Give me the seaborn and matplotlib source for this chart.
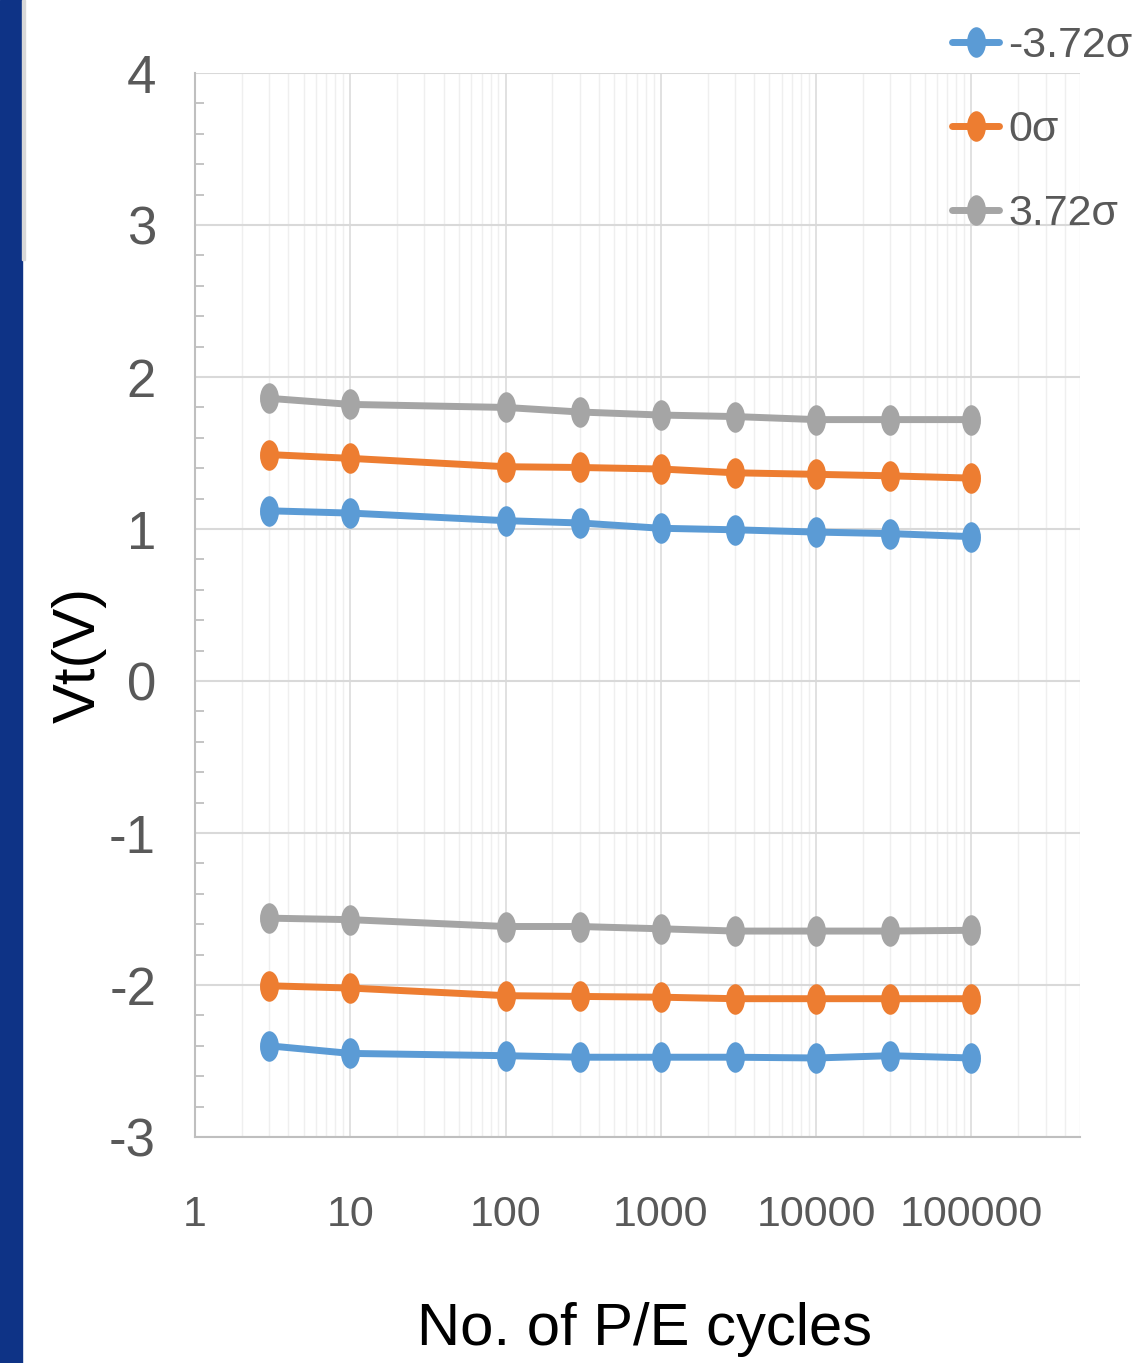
import numpy as np
import pandas as pd
import matplotlib
matplotlib.use("Agg")
import matplotlib.pyplot as plt
from matplotlib.path import Path
from matplotlib.transforms import Affine2D
from matplotlib.patches import Rectangle
from matplotlib.ticker import LogLocator, MultipleLocator, FixedLocator
import seaborn as sns

cycles = [3, 10, 100, 300, 1000, 3000, 10000, 30000, 100000]
sigmas = ["-3.72σ", "0σ", "3.72σ"]

# upper (programmed) state
prog_neg = [1.12, 1.105, 1.055, 1.04, 1.005, 0.995, 0.98, 0.97, 0.95]
prog_mid = [1.49, 1.465, 1.41, 1.405, 1.395, 1.37, 1.36, 1.35, 1.335]
prog_pos = [1.86, 1.82, 1.80, 1.77, 1.75, 1.74, 1.72, 1.72, 1.72]

# lower (erased) state
erase_neg = [-2.40, -2.45, -2.465, -2.475, -2.475, -2.475, -2.48, -2.465, -2.48]
erase_mid = [-2.005, -2.02, -2.07, -2.075, -2.08, -2.09, -2.09, -2.09, -2.09]
erase_pos = [-1.56, -1.57, -1.615, -1.615, -1.63, -1.645, -1.645, -1.645, -1.64]

colors = ["#5b9bd5", "#ed7d31", "#a5a5a5"]

rows = []
for state, series in [("prog", [prog_neg, prog_mid, prog_pos]),
                      ("erase", [erase_neg, erase_mid, erase_pos])]:
    for sig, vals in zip(sigmas, series):
        for c, v in zip(cycles, vals):
            rows.append({"cycles": c, "vt": v, "sigma": sig, "state": state})
df = pd.DataFrame(rows)

sns.set_style("white")
plt.rcParams["font.family"] = ["Liberation Sans", "DejaVu Sans"]
plt.rcParams["axes.unicode_minus"] = False

fig = plt.figure(figsize=(11.43, 13.63), dpi=100)
ax = fig.add_axes([0.1706, 0.1658, 0.9449 - 0.1706, 0.9464 - 0.1658])

# left blue strip
fig.patches.append(Rectangle((0, 0), 22 / 1143, 1, transform=fig.transFigure,
                             color="#0e3386", zorder=0))
fig.patches.append(Rectangle((22 / 1143, 1 - 260 / 1363), 3 / 1143, 260 / 1363,
                             transform=fig.transFigure, color="#d8d8d8", zorder=0))

# tall ellipse marker
ellipse = Path.unit_circle().transformed(Affine2D().scale(0.62, 1.0))

sns.lineplot(
    data=df, x="cycles", y="vt", hue="sigma", units="state",
    estimator=None, hue_order=sigmas, palette=colors,
    marker=ellipse, markersize=22, markeredgewidth=0,
    linewidth=5, ax=ax, sort=False
)

ax.set_xscale("log")
ax.set_xlim(1, 5e5)
ax.set_ylim(-3, 4)

ax.xaxis.set_major_locator(FixedLocator([1, 10, 100, 1000, 10000, 100000]))
ax.set_xticklabels(["1", "10", "100", "1000", "10000", "100000"])
ax.xaxis.set_minor_locator(LogLocator(base=10, subs=np.arange(2, 10), numticks=20))
ax.yaxis.set_major_locator(MultipleLocator(1))
ax.yaxis.set_minor_locator(MultipleLocator(0.2))

ax.grid(which="major", axis="y", color="#d9d9d9", linewidth=1.5)
ax.grid(which="major", axis="x", color="#dedede", linewidth=1.3)
ax.grid(which="minor", axis="x", color="#efefef", linewidth=1.0)
ax.set_axisbelow(True)

for s in ["top", "right"]:
    ax.spines[s].set_visible(False)
for s in ["left", "bottom"]:
    ax.spines[s].set_color("#bfbfbf")
    ax.spines[s].set_linewidth(1.5)

ax.tick_params(axis="x", which="both", length=0, pad=42, labelsize=31,
               labelcolor="#595959")
ax.tick_params(axis="y", which="major", length=0, pad=28, labelsize=38,
               labelcolor="#595959")
ax.tick_params(axis="y", which="minor", direction="in", length=6.5,
               width=1.3, color="#bfbfbf", left=True)

ax.set_xlabel("No. of P/E cycles", fontsize=43, color="black")
ax.set_ylabel("Vt(V)", fontsize=43, color="black")
ax.xaxis.set_label_coords(0.508, -0.155)
ax.yaxis.set_label_coords(-0.100, 0.453)

handles, labels = ax.get_legend_handles_labels()
leg = ax.legend(
    handles, labels, loc="upper left",
    bbox_to_anchor=(952 / 1143, 1 - 26 / 1363), bbox_transform=fig.transFigure,
    frameon=False, fontsize=31, handlelength=1.1, handletextpad=0.2,
    labelspacing=1.02, borderpad=0, borderaxespad=0
)
for t in leg.get_texts():
    t.set_color("#595959")

fig.savefig("out.png", dpi=100)
